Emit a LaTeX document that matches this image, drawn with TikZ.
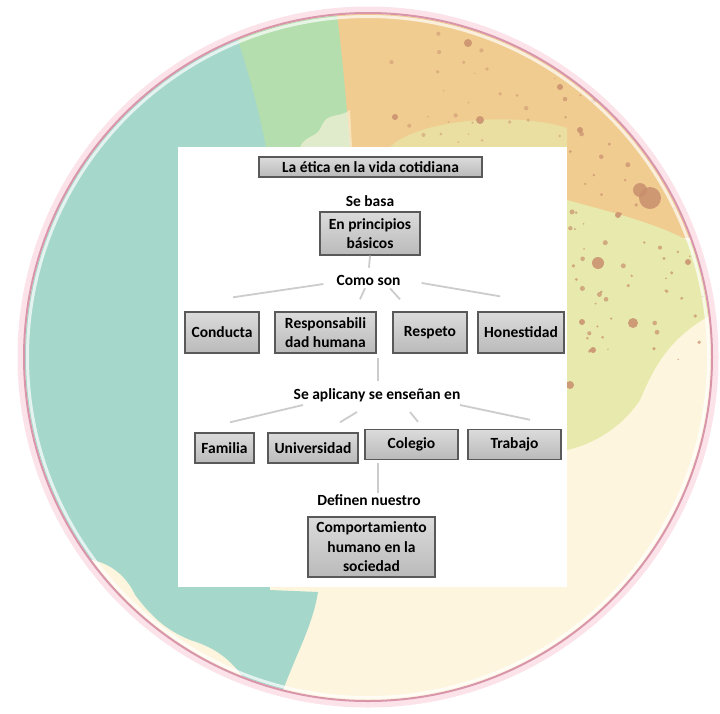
\documentclass[tikz,border=0pt]{standalone}
\usepackage{fontspec}
\setmainfont{Carlito}

\definecolor{wcteal}{HTML}{A5D8CB}
\definecolor{wcgreen}{HTML}{B4DEAD}
\definecolor{wcorange}{HTML}{F0CC90}
\definecolor{wcyellow}{HTML}{E7EAAC}
\definecolor{wccream}{HTML}{FDF5DE}
\definecolor{wcspot}{HTML}{C98F6E}
\definecolor{ringpink}{HTML}{F4B9C8}
\definecolor{ringline}{HTML}{D996AA}

\begin{document}
\begin{tikzpicture}[x=1pt, y=-1pt,
    font=\fontsize{15.5}{19.5}\selectfont\bfseries,
    box/.style = {draw=black!65, line width=1.4pt, top color=black!14, bottom color=black!27,
                  inner sep=0pt, align=center, minimum height=41pt},
    lbl/.style = {inner sep=1pt},
    link/.style = {draw=black!20, line width=1.8pt}]

        \useasboundingbox (0,0) rectangle (720,713);
        \fill[white] (0,0) rectangle (720,713);

        % Watercolour disc
        \begin{scope}
            \clip (368,357) circle (343pt);
            \fill[wccream] (0,0) rectangle (720,713);
            \fill[wcorange] (330,0) -- (720,0) -- (720,235)
                .. controls (660,240) and (610,245) .. (567,255) -- (567,147) -- (350,147)
                .. controls (346,100) and (340,50) .. (330,0) -- cycle;
            \fill[wcgreen] (215,0) -- (335,0) .. controls (342,50) and (346,100) .. (350,147)
                -- (266,147) -- cycle;
            \fill[wcteal] (0,0) -- (225,0) .. controls (245,60) and (260,110) .. (268,160)
                -- (270,590) -- (318,592) .. controls (312,630) and (292,660) .. (275,713)
                -- (0,713) -- cycle;
            \fill[wcyellow] (567,200) .. controls (620,215) and (690,230) .. (720,265)
                -- (720,310) .. controls (670,335) and (655,365) .. (640,400)
                .. controls (620,430) and (590,445) .. (567,450) -- cycle;
            \fill[wcyellow, opacity=.6] (390,147) .. controls (420,118) and (520,112) .. (567,128)
                -- (567,147) -- cycle;
            \fill[wccream, opacity=.6] (300,147) .. controls (305,135) and (318,138) .. (322,125)
                .. controls (328,112) and (340,118) .. (350,110) -- (352,147) -- cycle;
            % pale fringe on the lower left
            \fill[wccream] (92,560) .. controls (115,565) and (128,580) .. (135,595)
                .. controls (150,615) and (165,630) .. (190,640)
                .. controls (215,648) and (240,660) .. (262,713) -- (0,713) -- cycle;

            % spots
            \pgfmathsetseed{7}
            \foreach \i in {1,...,90} {
                \pgfmathsetmacro{\sx}{565+140*rnd}
                \pgfmathsetmacro{\sy}{60+300*rnd}
                \pgfmathsetmacro{\sr}{0.7+1.9*rnd}
                \fill[wcspot, opacity=.7] (\sx,\sy) circle (\sr pt);
            }
            \foreach \i in {1,...,30} {
                \pgfmathsetmacro{\sx}{390+175*rnd}
                \pgfmathsetmacro{\sy}{30+115*rnd}
                \pgfmathsetmacro{\sr}{0.7+1.6*rnd}
                \fill[wcspot, opacity=.5] (\sx,\sy) circle (\sr pt);
            }
            \foreach \x/\y/\r in {650/198/11, 640/190/7, 598/263/6, 633/323/5, 582/322/3,
                                  593/350/3, 570/385/4, 468/43/4, 480/120/4, 560/87/3,
                                  395/117/3, 580/130/3, 618/215/3, 688/262/3} {
                \fill[wcspot, opacity=.85] (\x,\y) circle (\r pt);
            }
        \end{scope}

        % Rim
        \draw[ringpink!40, line width=7pt] (368,357) circle (347pt);
        \draw[ringline, line width=2pt] (368,357) circle (344pt);
        \draw[white, opacity=.7, line width=3pt] (368,357) circle (340.5pt);

        % Sheet
        \fill[white] (178,147) rectangle (567,587);

        % Title
        \node[box, minimum width=223pt, minimum height=20pt] (titulo) at (370.5,167) {La ética en la vida cotidiana};
        \node[lbl] (sebasa) at (370,201) {Se basa};
        \node[box, minimum width=100pt, minimum height=43pt] (principios) at (370,233.5) {En principios\\básicos};
        \node[lbl] (comoson) at (368.5,280) {Como son};

        % Principles
        \node[box, minimum width=74pt] (conducta) at (222,332.5) {Conducta};
        \node[box, minimum width=101pt] (responsab) at (325.5,332.5) {Responsabili\\dad humana};
        \node[box, minimum width=74pt] (respeto) at (430,332.5) {Respeto};
        \node[box, minimum width=86pt] (honestidad) at (521,332.5) {Honestidad};

        \node[lbl] (aplican) at (377,395) {Se aplicany se enseñan en};

        % Places
        \node[box, minimum width=59pt, minimum height=30pt] (familia) at (224.5,448) {Familia};
        \node[box, minimum width=90pt, minimum height=30pt] (universidad) at (313,448) {Universidad};
        \node[box, minimum width=93pt, minimum height=30pt] (colegio) at (411.5,444.5) {Colegio};
        \node[box, minimum width=93pt, minimum height=30pt] (trabajo) at (514.5,444.5) {Trabajo};

        \node[lbl] (definen) at (369,500) {Definen nuestro};
        \node[box, minimum width=127pt, minimum height=60pt] (comportamiento) at (371.5,547) {Comportamiento\\humano en la\\sociedad};

        % Links
        \draw[link, shorten >=6pt] (principios.south) -- (comoson.north);
        \draw[link] ([xshift=-12pt,yshift=-4pt]comoson.west) -- ([xshift=11pt,yshift=14pt]conducta.north);
        \draw[link] ([xshift=-3.5pt,yshift=-2pt]comoson.south) -- ([xshift=34.5pt,yshift=12pt]responsab.north);
        \draw[link] ([xshift=21.5pt,yshift=-2pt]comoson.south) -- ([xshift=-30pt,yshift=12pt]respeto.north);
        \draw[link] ([xshift=20pt,yshift=-3pt]comoson.east) -- ([xshift=-21pt,yshift=15pt]honestidad.north);

        \coordinate (fila1) at (378,358);
        \draw[link, shorten >=6pt] (fila1) -- (fila1 |- aplican.north);

        \draw[link] ([xshift=-74pt,yshift=-10pt]aplican.center) -- ([xshift=5.5pt,yshift=10pt]familia.north);
        \draw[link] ([xshift=-20pt,yshift=-17pt]aplican.center) -- ([xshift=27pt,yshift=10pt]universidad.north);
        \draw[link] ([xshift=33pt,yshift=-17pt]aplican.center) -- ([xshift=6.5pt,yshift=7pt]colegio.north);
        \draw[link] ([xshift=83pt,yshift=-10pt]aplican.center) -- ([xshift=15.5pt,yshift=9pt]trabajo.north);

        \coordinate (fila2) at (378,463);
        \draw[link] (fila2) -- (fila2 |- definen.north);
    \end{tikzpicture}
\end{document}
